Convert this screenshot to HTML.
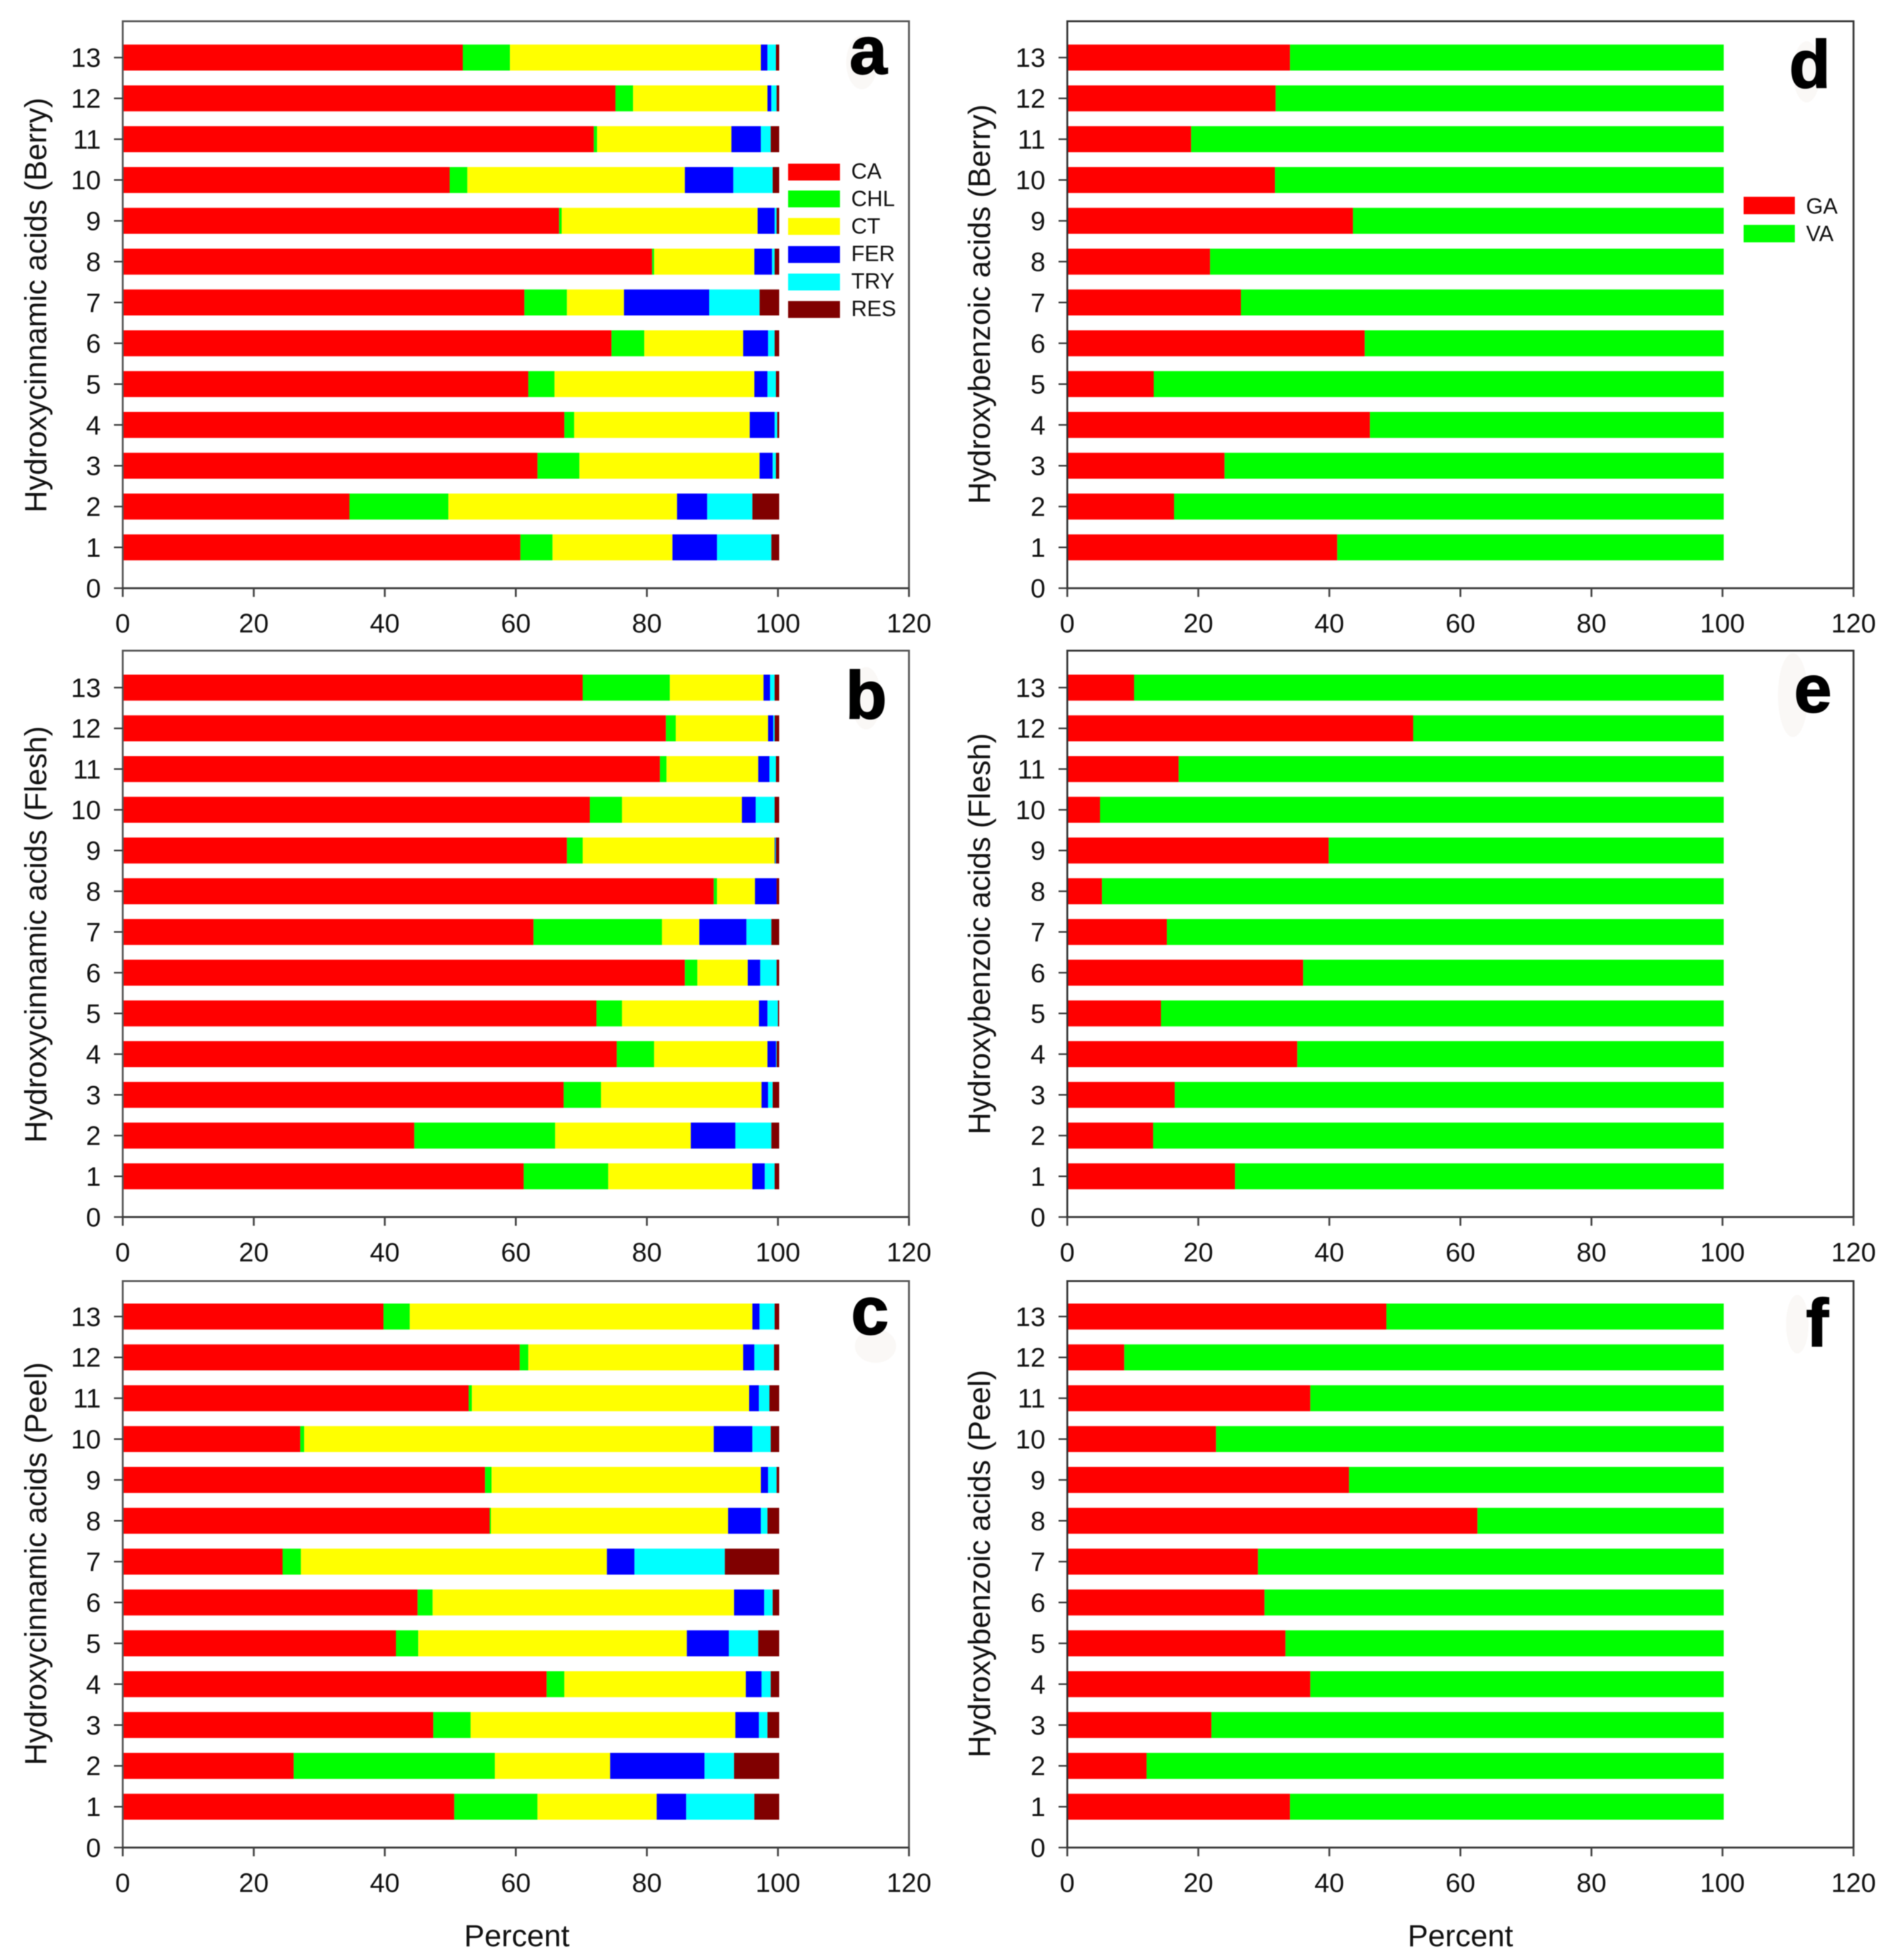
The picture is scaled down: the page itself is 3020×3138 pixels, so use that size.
<!DOCTYPE html>
<html lang="en">
<head>
<meta charset="utf-8">
<title>Hydroxycinnamic and hydroxybenzoic acid composition</title>
<style>
html,body{margin:0;padding:0;background:#fff;}
svg{display:block;filter:blur(0.7px);}
text{font-family:"Liberation Sans",Arial,sans-serif;fill:#111;}
.ax{font-size:49px;}
.xt{font-size:49px;}
.let{font-size:108px;font-weight:bold;fill:#000;stroke:#000;stroke-width:2px;text-anchor:end;}
.leg{font-size:35px;}
.blot{fill:#faf8f6;}
</style>
</head>
<body>
<svg id="chart" xmlns="http://www.w3.org/2000/svg" width="3020" height="3138" viewBox="0 0 3020 3138">
  <rect x="0" y="0" width="3020" height="3138" fill="#ffffff"/>
  <g id="plots"></g>

  <text class="ax" transform="translate(74,488.5) rotate(-90)" text-anchor="middle">Hydroxycinnamic acids (Berry)</text>
  <text class="ax" transform="translate(74,1496) rotate(-90)" text-anchor="middle">Hydroxycinnamic acids (Flesh)</text>
  <text class="ax" transform="translate(74,2503.5) rotate(-90)" text-anchor="middle">Hydroxycinnamic acids (Peel)</text>
  <text class="ax" transform="translate(1585,487) rotate(-90)" text-anchor="middle">Hydroxybenzoic acids (Berry)</text>
  <text class="ax" transform="translate(1585,1495) rotate(-90)" text-anchor="middle">Hydroxybenzoic acids (Flesh)</text>
  <text class="ax" transform="translate(1585,2503.5) rotate(-90)" text-anchor="middle">Hydroxybenzoic acids (Peel)</text>

  <text class="xt" x="827.5" y="3116" text-anchor="middle">Percent</text>
  <text class="xt" x="2338.5" y="3116" text-anchor="middle">Percent</text>

  <ellipse class="blot" cx="1380" cy="100" rx="25" ry="43"/>
  <ellipse class="blot" cx="1387" cy="1118" rx="24" ry="50"/>
  <ellipse class="blot" cx="1402" cy="2155" rx="33" ry="27"/>
  <ellipse class="blot" cx="2893" cy="115" rx="22" ry="49"/>
  <ellipse class="blot" cx="2871" cy="1113" rx="24" ry="67"/>
  <ellipse class="blot" cx="2878" cy="2120" rx="18" ry="47"/>

  <text class="let" x="1420.5" y="118">a</text>
  <text class="let" x="1420" y="1150">b</text>
  <text class="let" x="1423" y="2136">c</text>
  <text class="let" x="2931" y="140">d</text>
  <text class="let" x="2933" y="1140">e</text>
  <text class="let" x="2928" y="2155">f</text>

  <g>
    <rect x="1262" y="262" width="83" height="27" fill="#ff0000"/>
    <text class="leg" x="1363" y="286">CA</text>
    <rect x="1262" y="305" width="83" height="27" fill="#00ff00"/>
    <text class="leg" x="1363" y="330">CHL</text>
    <rect x="1262" y="349" width="83" height="27" fill="#ffff00"/>
    <text class="leg" x="1363" y="374">CT</text>
    <rect x="1262" y="394" width="83" height="27" fill="#0000ff"/>
    <text class="leg" x="1363" y="418">FER</text>
    <rect x="1262" y="438" width="83" height="27" fill="#00ffff"/>
    <text class="leg" x="1363" y="462">TRY</text>
    <rect x="1262" y="482" width="83" height="27" fill="#800000"/>
    <text class="leg" x="1363" y="506">RES</text>
  </g>
  <g>
    <rect x="2792" y="315" width="82" height="28" fill="#ff0000"/>
    <text class="leg" x="2892" y="342">GA</text>
    <rect x="2792" y="360" width="82" height="28" fill="#00ff00"/>
    <text class="leg" x="2892" y="386">VA</text>
  </g>
</svg>

<script>
// Axis tick labels
var xTicks = [0, 20, 40, 60, 80, 100, 120];
var yTicks = [0, 1, 2, 3, 4, 5, 6, 7, 8, 9, 10, 11, 12, 13];
var categories = [1, 2, 3, 4, 5, 6, 7, 8, 9, 10, 11, 12, 13];

// Panel a: hydroxycinnamic acids, berry (categories 1..13)
var berryCA  = [60.7,34.6,63.3,67.4,61.9,74.6,61.3,80.8,66.6,49.9,71.9,75.2,51.9];
var berryCHL = [4.9,15.1,6.4,1.5,4.0,5.0,6.5,0.3,0.4,2.7,0.5,2.7,7.2];
var berryCT  = [18.3,34.9,27.5,26.8,30.5,15.1,8.7,15.3,29.9,33.2,20.5,20.5,38.3];
var berryFER = [6.8,4.6,2.0,3.8,2.0,3.8,13.0,2.7,2.6,7.4,4.5,0.6,1.0];
var berryTRY = [8.3,6.9,0.5,0.4,1.3,1.0,7.7,0.4,0.3,6.0,1.5,0.8,1.3];
var berryRES = [1.0,3.9,0.3,0.1,0.3,0.5,2.8,0.5,0.2,0.8,1.1,0.2,0.3];

// Panel b: hydroxycinnamic acids, flesh
var fleshCA  = [61.2,44.5,67.3,75.4,72.3,85.8,62.7,90.2,67.8,71.3,82.0,82.9,70.2];
var fleshCHL = [12.9,21.5,5.7,5.7,3.9,1.9,19.6,0.5,2.4,4.9,1.0,1.5,13.3];
var fleshCT  = [22.0,20.7,24.5,17.3,20.9,7.7,5.7,5.8,29.3,18.3,14.0,14.1,14.3];
var fleshFER = [1.9,6.8,1.0,1.3,1.3,1.9,7.2,3.3,0.1,2.1,1.7,0.8,1.0];
var fleshTRY = [1.5,5.5,0.7,0.1,1.6,2.5,3.8,0.0,0.1,2.9,1.0,0.2,0.7];
var fleshRES = [0.5,1.0,0.8,0.2,0.0,0.2,1.0,0.2,0.3,0.5,0.3,0.5,0.5];

// Panel c: hydroxycinnamic acids, peel
var peelCA  = [50.6,26.1,47.4,64.7,41.7,45.0,24.4,56.0,55.3,27.1,52.8,60.6,39.8];
var peelCHL = [12.7,30.7,5.7,2.7,3.4,2.3,2.8,0.2,1.0,0.6,0.5,1.3,4.0];
var peelCT  = [18.2,17.6,40.4,27.7,41.0,46.0,46.7,36.2,41.1,62.5,42.3,32.8,52.3];
var peelFER = [4.5,14.4,3.6,2.4,6.4,4.6,4.2,5.0,1.1,5.9,1.5,1.7,1.1];
var peelTRY = [10.4,4.5,1.3,1.4,4.5,1.3,13.8,1.0,1.3,2.8,1.6,3.0,2.3];
var peelRES = [3.6,6.7,1.6,1.1,3.0,0.8,8.1,1.6,0.2,1.1,1.3,0.6,0.5];

// Panel d: hydroxybenzoic acids, berry
var berryGA = [41.2,16.3,24.0,46.2,13.2,45.4,26.5,21.8,43.6,31.7,18.9,31.8,34.0];
var berryVA = [58.8,83.7,76.0,53.8,86.8,54.6,73.5,78.2,56.4,68.3,81.1,68.2,66.0];

// Panel e: hydroxybenzoic acids, flesh
var fleshGA = [25.6,13.1,16.4,35.1,14.3,36.0,15.2,5.3,39.9,5.0,17.0,52.8,10.2];
var fleshVA = [74.4,86.9,83.6,64.9,85.7,64.0,84.8,94.7,60.1,95.0,83.0,47.2,89.8];

// Panel f: hydroxybenzoic acids, peel
var peelGA = [34.0,12.1,22.0,37.1,33.3,30.1,29.1,62.6,43.0,22.7,37.1,8.7,48.7];
var peelVA = [66.0,87.9,78.0,62.9,66.7,69.9,70.9,37.4,57.0,77.3,62.9,91.3,51.3];

var NS = 'http://www.w3.org/2000/svg';
var plots = document.getElementById('plots');
var X_MAX = 120;
var BAR_H = 41.6;
var BAR_END_BLEED = 2;

function cinnamicSeries(ca, chl, ct, fer, tr, res) {
  return [
    { key: 'ca', color: '#ff0000', values: ca },
    { key: 'chl', color: '#00ff00', values: chl },
    { key: 'ct', color: '#ffff00', values: ct },
    { key: 'fer', color: '#0000ff', values: fer },
    { key: 'try', color: '#00ffff', values: tr },
    { key: 'res', color: '#800000', values: res }
  ];
}
function benzoicSeries(ga, va) {
  return [
    { key: 'ga', color: '#ff0000', values: ga },
    { key: 'va', color: '#00ff00', values: va }
  ];
}

var panels = [
  { id: 'a', left: 196.5, right: 1455.5, top: 34, bottom: 941.7, unit: 65.35, frame: '#555555', series: cinnamicSeries(berryCA, berryCHL, berryCT, berryFER, berryTRY, berryRES) },
  { id: 'b', left: 196.5, right: 1455.5, top: 1041.7, bottom: 1948.5, unit: 65.2, frame: '#555555', series: cinnamicSeries(fleshCA, fleshCHL, fleshCT, fleshFER, fleshTRY, fleshRES) },
  { id: 'c', left: 196.5, right: 1455.5, top: 2051, bottom: 2958, unit: 65.4, frame: '#555555', series: cinnamicSeries(peelCA, peelCHL, peelCT, peelFER, peelTRY, peelRES) },
  { id: 'd', left: 1709, right: 2968, top: 34, bottom: 941.7, unit: 65.35, frame: '#333333', series: benzoicSeries(berryGA, berryVA) },
  { id: 'e', left: 1709, right: 2968, top: 1041.7, bottom: 1948.5, unit: 65.2, frame: '#333333', series: benzoicSeries(fleshGA, fleshVA) },
  { id: 'f', left: 1709, right: 2968, top: 2051, bottom: 2958, unit: 65.4, frame: '#333333', series: benzoicSeries(peelGA, peelVA) }
];

function make(tag, parent, attrs) {
  var el = document.createElementNS(NS, tag);
  for (var k in attrs) { el.setAttribute(k, attrs[k]); }
  parent.appendChild(el);
  return el;
}

panels.forEach(function (p) {
  var xScale = function (v) { return p.left + v * (p.right - p.left) / X_MAX; };
  var yScale = function (v) { return p.bottom - v * p.unit; };

  var g = make('g', plots, {});
  
  

  // Stacked bars
  categories.forEach(function (cat, i) {
    var cum = 0;
    p.series.forEach(function (s, si) {
      var v = s.values[i];
      var extra = si === p.series.length - 1 ? BAR_END_BLEED : 0;
      var bar = make('rect', g, {
        x: xScale(cum),
        y: yScale(cat) - BAR_H / 2,
        width: xScale(cum + v) - xScale(cum) + extra,
        height: BAR_H,
        fill: s.color
      });
      
      
      cum += v;
    });
  });

  // Frame
  var frame = make('path', g, {
    d: 'M' + p.left + ' ' + p.bottom + 'V' + p.top + 'H' + p.right + 'V' + p.bottom,
    fill: 'none', stroke: p.frame, 'stroke-width': 3
  });
  
  

  // X axis baseline
  var xAxis = make('line', g, {
    x1: p.left, x2: p.right, y1: p.bottom, y2: p.bottom, stroke: '#333333', 'stroke-width': 3
  });
  
  

  // X ticks and labels
  xTicks.forEach(function (t) {
    var tick = make('line', g, {
      x1: xScale(t), x2: xScale(t), y1: p.bottom, y2: p.bottom + 14, stroke: '#444444', 'stroke-width': 3
    });
    
    
    var label = make('text', g, {
      x: xScale(t), y: p.bottom + 71, 'text-anchor': 'middle', 'font-size': 43
    });
    
    
    label.textContent = String(t);
  });

  // Y ticks and labels
  yTicks.forEach(function (t) {
    var tick = make('line', g, {
      x1: p.left - 14, x2: p.left, y1: yScale(t), y2: yScale(t), stroke: '#333333', 'stroke-width': 2.5
    });
    
    
    var label = make('text', g, {
      x: p.left - 35, y: yScale(t) + 15, 'text-anchor': 'end', 'font-size': 43
    });
    
    
    label.textContent = String(t);
  });
});
</script>
</body>
</html>
